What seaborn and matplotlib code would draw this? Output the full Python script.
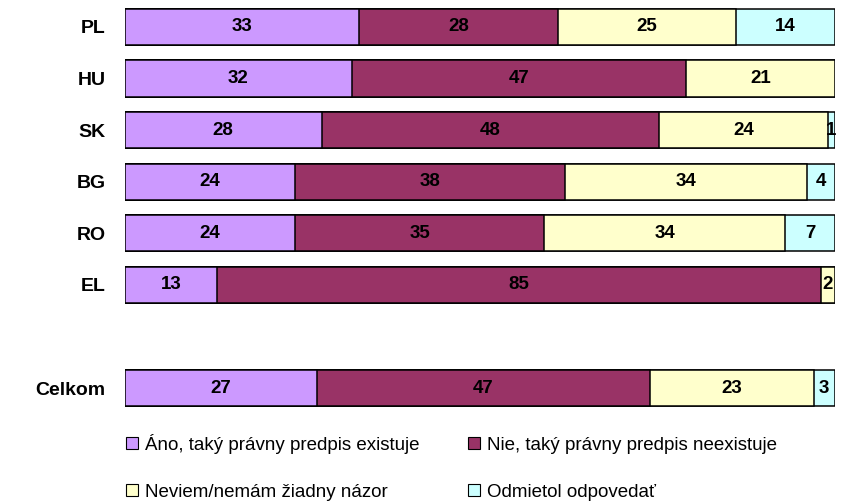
import numpy as np
import pandas as pd
import seaborn as sns
from matplotlib import pyplot as plt
from matplotlib.patches import Patch

# data (percent of respondents)
countries = ["PL", "HU", "SK", "BG", "RO", "EL", "Celkom"]
ano = [33, 32, 28, 24, 24, 13, 27]
nie = [28, 47, 48, 38, 35, 85, 47]
neviem = [25, 21, 24, 34, 34, 2, 23]
odmietol = [14, 0, 1, 4, 7, 0, 3]

series_names = ["Áno, taký právny predpis existuje",
                "Nie, taký právny predpis neexistuje",
                "Neviem/nemám žiadny názor",
                "Odmietol odpovedať"]
colors = ["#CC99FF", "#993366", "#FFFFCC", "#CCFFFF"]
# empty slot between EL and Celkom
order = ["PL", "HU", "SK", "BG", "RO", "EL", " ", "Celkom"]

df = pd.DataFrame({"Country": countries, "s0": ano, "s1": nie, "s2": neviem, "s3": odmietol})
cols = ["s0", "s1", "s2", "s3"]

# 100% stacked -> normalise each row, then cumulative sums
shares = df[cols].div(df[cols].sum(axis=1), axis=0) * 100
cum = shares.cumsum(axis=1)
for c in cols:
    df["cum_" + c] = cum[c]

sns.set_theme(style="white")
plt.rcParams["font.family"] = ["Liberation Sans", "DejaVu Sans"]
plt.rcParams["text.color"] = "black"
plt.rcParams["ytick.labelcolor"] = "black"

fig, ax = plt.subplots(figsize=(8.67, 5.03), dpi=100)
fig.subplots_adjust(left=0.144, right=0.963, top=0.998, bottom=0.177)

# draw from the full length backwards so each layer covers the next one
for i in reversed(range(4)):
    sns.barplot(data=df, y="Country", x="cum_" + cols[i], order=order,
                color=colors[i], saturation=1, width=0.7, errorbar=None,
                edgecolor="black", linewidth=1.1, ax=ax)

# value labels in the middle of each segment
for r, country in enumerate(countries):
    pos = order.index(country)
    left = 0
    for c in cols:
        w = shares.loc[r, c]
        if df.loc[r, c] > 0:
            ax.text(left + w / 2, pos, str(df.loc[r, c]), ha="center", va="center",
                    fontsize=13.5, fontweight="bold", color="black")
        left += w

ax.set_xlim(0, 100)
ax.set_ylim(7.5, -0.5)
ax.set_xlabel("")
ax.set_ylabel("")
ax.set_xticks([])
for s in ax.spines.values():
    s.set_visible(False)
ax.tick_params(axis="y", left=False, length=0, pad=14)
for lab in ax.get_yticklabels():
    lab.set_fontweight("bold")
    lab.set_fontsize(14)
    lab.set_color("black")

handles = [Patch(facecolor=colors[i], edgecolor="black", linewidth=0.8) for i in [0, 2, 1, 3]]
labels = [series_names[i] for i in [0, 2, 1, 3]]
fig.legend(handles, labels, loc="upper left", bbox_to_anchor=(0.137, 0.152), ncol=2,
           frameon=False, fontsize=13.5, handlelength=0.6, handleheight=0.6,
           handletextpad=0.4, columnspacing=2.6, labelspacing=1.6, borderaxespad=0)

plt.savefig("out.png", dpi=100)
